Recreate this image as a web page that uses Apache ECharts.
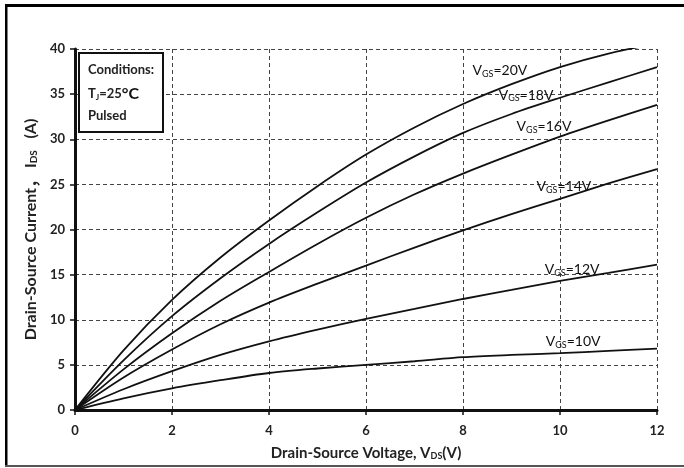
<!DOCTYPE html>
<html>
<head>
<meta charset="utf-8">
<script src="https://cdn.jsdelivr.net/npm/echarts@6/dist/echarts.min.js"></script>
<style>
html,body{margin:0;padding:0;background:#fff;}
#c{width:684px;height:468px;}
</style>
</head>
<body>
<div id="c"></div>
<script>
// ---- data ----
const vds = [0, 1, 2, 3, 4, 5, 6, 7, 8, 9, 10, 11, 12];
const id20 = [0, 6.6, 12.2, 16.9, 21.0, 24.8, 28.3, 31.3, 33.9, 36.1, 38.0, 39.5, 40.6];
const id18 = [0, 5.5, 10.4, 14.6, 18.4, 21.9, 25.2, 28.1, 30.7, 32.8, 34.6, 36.3, 38.0];
const id16 = [0, 4.5, 8.5, 12.1, 15.3, 18.4, 21.3, 23.9, 26.2, 28.3, 30.3, 32.1, 33.8];
const id14 = [0, 3.6, 6.7, 9.5, 11.9, 14.0, 16.0, 18.0, 19.9, 21.7, 23.4, 25.1, 26.7];
const id12 = [0, 2.3, 4.3, 6.1, 7.6, 8.9, 10.1, 11.2, 12.3, 13.3, 14.3, 15.2, 16.1];
const id10 = [0, 1.3, 2.4, 3.3, 4.1, 4.6, 5.0, 5.4, 5.85, 6.1, 6.3, 6.55, 6.8];
const gateLabels = ['20', '18', '16', '14', '12', '10'];
// label anchor points (data space) for the curve annotations
const labelAnchors = [[8.76, 37.6], [9.3, 34.9], [9.67, 31.4], [10.08, 24.8], [10.25, 15.6], [10.27, 7.6]];

const FONT = 'Lato, "Open Sans", sans-serif';
const chart = echarts.init(document.getElementById('c'));
const allSeries = [id20, id18, id16, id14, id12, id10];

const series = allSeries.map((arr, i) => ({
  type: 'line',
  name: 'VGS=' + gateLabels[i] + 'V',
  data: vds.map((x, k) => [x, arr[k]]),
  smooth: 0.3,
  showSymbol: false,
  clip: true,
  lineStyle: { color: '#111', width: 1.8 },
  silent: true
}));

const dash = { color: '#444', width: 1, type: [4, 3] };

chart.setOption({
  animation: false,
  backgroundColor: '#fff',
  grid: { left: 75, right: 27, top: 49, bottom: 58 },
  xAxis: {
    type: 'value', min: 0, max: 12, interval: 2,
    axisLine: { lineStyle: { color: '#111', width: 3 } },
    axisTick: { show: true, length: 5, lineStyle: { color: '#111', width: 1.5 } },
    axisLabel: { color: '#222', fontFamily: FONT, fontWeight: 'bold', fontSize: 13, margin: 14 },
    splitLine: { show: true, lineStyle: dash },
    name: '{n|Drain-Source Voltage, V}{s|DS}{n|(V)}',
    nameLocation: 'middle', nameGap: 36,
    nameTextStyle: {
      rich: {
        n: { fontFamily: FONT, fontWeight: 'bold', fontSize: 15, color: '#222' },
        s: { fontFamily: FONT, fontWeight: 'bold', fontSize: 9, color: '#222', verticalAlign: 'bottom', padding: [6, 0, 0, 0] }
      }
    }
  },
  yAxis: {
    type: 'value', min: 0, max: 40, interval: 5,
    axisLine: { show: true, lineStyle: { color: '#111', width: 3 } },
    axisTick: { show: true, length: 5, lineStyle: { color: '#111', width: 1.5 } },
    axisLabel: { color: '#222', fontFamily: FONT, fontWeight: 'bold', fontSize: 13, margin: 10 },
    splitLine: { show: true, lineStyle: dash },
    name: '{n|Drain-Source Current}{k|，}{n| I}{s|DS}{n|   (A)}',
    nameLocation: 'middle', nameGap: 35,
    nameTextStyle: {
      rich: {
        n: { fontFamily: FONT, fontWeight: 'bold', fontSize: 16, color: '#222' },
        k: { fontFamily: '"Noto Sans CJK SC"', fontWeight: 'bold', fontSize: 16, color: '#222' },
        s: { fontFamily: FONT, fontWeight: 'bold', fontSize: 10, color: '#222', verticalAlign: 'bottom', padding: [7, 0, 0, 0] }
      }
    }
  },
  series: series
});

// annotations
const graphics = [];
// outer frame
graphics.push({ type: 'rect', shape: { x: 5, y: 4, width: 690, height: 3 }, style: { fill: '#000' }, z: 100 });
graphics.push({ type: 'rect', shape: { x: 5, y: 4, width: 2.5, height: 463 }, style: { fill: '#000' }, z: 100 });
graphics.push({ type: 'rect', shape: { x: 5, y: 465, width: 690, height: 2 }, style: { fill: '#555' }, z: 100 });

// conditions box
graphics.push({ type: 'rect', shape: { x: 79, y: 53, width: 84, height: 79 }, style: { fill: '#fff', stroke: '#111', lineWidth: 2 }, z: 50 });
const condRich = {
  a: { fontFamily: FONT, fontWeight: 'bold', fontSize: 13, fill: '#222' },
  s: { fontFamily: FONT, fontWeight: 'bold', fontSize: 8, fill: '#222', padding: [6, 0, 0, 0] },
  c: { fontFamily: FONT, fontWeight: 'bold', fontSize: 16, fill: '#111' }
};
graphics.push({ type: 'text', x: 88, y: 70, style: { text: '{a|Conditions:}', rich: condRich, verticalAlign: 'middle' }, z: 51 });
graphics.push({ type: 'text', x: 88, y: 94, style: { text: '{a|T}{s|J}{a|=25}{c|°C}', rich: condRich, verticalAlign: 'middle' }, z: 51 });
graphics.push({ type: 'text', x: 88, y: 116, style: { text: '{a|Pulsed}', rich: condRich, verticalAlign: 'middle' }, z: 51 });

const labRich = {
  a: { fontFamily: FONT, fontSize: 14, fill: '#111' },
  s: { fontFamily: FONT, fontSize: 9, fill: '#111', padding: [7, 0, 0, 0] }
};
labelAnchors.forEach((p, i) => {
  const px = chart.convertToPixel({ gridIndex: 0 }, p);
  graphics.push({
    type: 'text', x: px[0], y: px[1], z: 40,
    style: { text: '{a|V}{s|GS}{a|=' + gateLabels[i] + 'V}', rich: labRich, align: 'center', verticalAlign: 'middle' }
  });
});

chart.setOption({ graphic: graphics });
</script>
</body>
</html>
